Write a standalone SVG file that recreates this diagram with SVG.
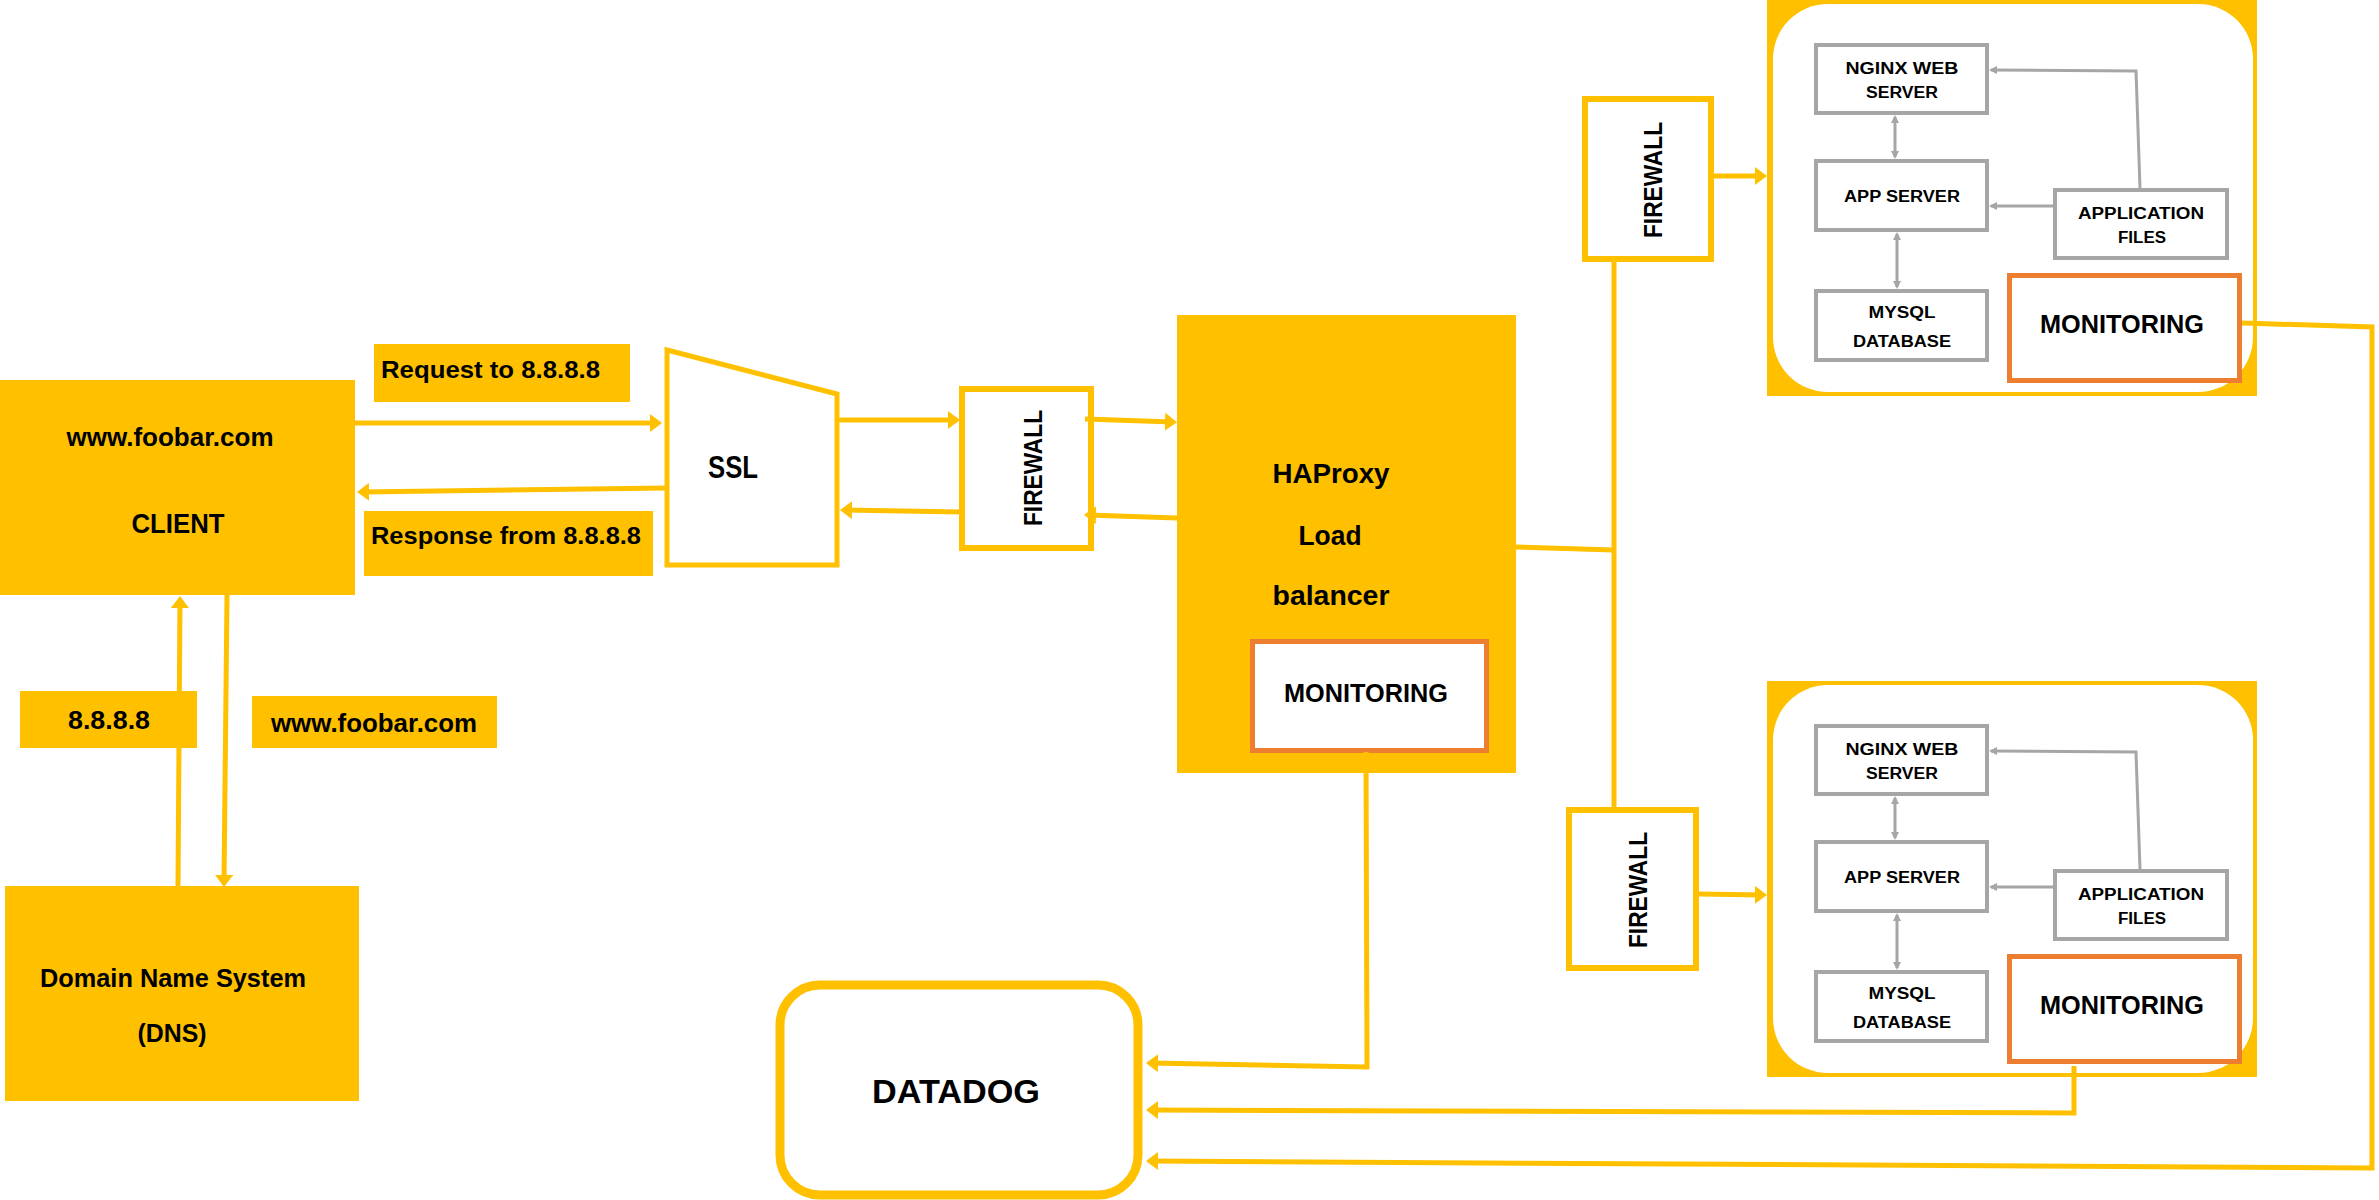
<svg xmlns="http://www.w3.org/2000/svg" width="2379" height="1200" viewBox="0 0 2379 1200">
<style>
.yf{fill:#FFC000}
.t{font-family:"Liberation Sans",Arial,sans-serif;font-weight:bold;fill:#000}
.c{stroke:#FFC000;stroke-width:5;fill:none}
.gb{fill:#fff;stroke:#A6A6A6;stroke-width:4}
.gc{stroke:#A6A6A6;stroke-width:3;fill:none}
.mon{fill:#fff;stroke:#ED7D31;stroke-width:5}
.fw{fill:#fff;stroke:#FFC000;stroke-width:6}
</style>
<defs>
<marker id="ah" markerUnits="userSpaceOnUse" markerWidth="12" markerHeight="18" viewBox="0 0 12 18" refX="8" refY="9" orient="auto">
<path d="M0,0 L12,9 L0,18 z" fill="#FFC000"/>
</marker>
<marker id="ga" markerUnits="userSpaceOnUse" markerWidth="8" markerHeight="8" viewBox="0 0 8 8" refX="6" refY="4" orient="auto-start-reverse">
<path d="M0,0 L8,4 L0,8 z" fill="#A6A6A6"/>
</marker>
</defs>
<rect width="2379" height="1200" fill="#fff"/>

<g id="client">
<rect class="yf" x="0" y="380" width="355" height="215"/>
<text class="t" x="170" y="446" font-size="26" text-anchor="middle" textLength="207" lengthAdjust="spacingAndGlyphs">www.foobar.com</text>
<text class="t" x="178" y="533" font-size="27" text-anchor="middle" textLength="93" lengthAdjust="spacingAndGlyphs">CLIENT</text>
</g>

<g id="label-request">
<rect class="yf" x="374" y="344" width="256" height="58"/>
<text class="t" x="381" y="378" font-size="24" textLength="219" lengthAdjust="spacingAndGlyphs">Request to 8.8.8.8</text>
</g>
<g id="label-response">
<rect class="yf" x="364" y="511" width="289" height="65"/>
<text class="t" x="371" y="544" font-size="24" textLength="270" lengthAdjust="spacingAndGlyphs">Response from 8.8.8.8</text>
</g>

<g id="label-domain">
<rect class="yf" x="252" y="696" width="245" height="52"/>
<text class="t" x="374" y="732" font-size="26" text-anchor="middle" textLength="206" lengthAdjust="spacingAndGlyphs">www.foobar.com</text>
</g>

<g id="dns">
<rect class="yf" x="5" y="886" width="354" height="215"/>
<text class="t" x="173" y="987" font-size="25" text-anchor="middle" textLength="266" lengthAdjust="spacingAndGlyphs">Domain Name System</text>
<text class="t" x="172" y="1042" font-size="25" text-anchor="middle" textLength="69" lengthAdjust="spacingAndGlyphs">(DNS)</text>
</g>

<g id="ssl">
<polygon points="667,350 837,394 837,565 667,565" fill="#fff" stroke="#FFC000" stroke-width="5"/>
<text class="t" x="733" y="478" font-size="32" text-anchor="middle" textLength="50" lengthAdjust="spacingAndGlyphs">SSL</text>
</g>

<g id="firewall-1">
<rect class="fw" x="962" y="389" width="129" height="159"/>
<text class="t" transform="translate(1033,468) rotate(-90)" x="0" y="9" font-size="25" text-anchor="middle" textLength="116" lengthAdjust="spacingAndGlyphs">FIREWALL</text>
</g>

<g id="haproxy">
<rect class="yf" x="1177" y="315" width="339" height="458"/>
<text class="t" x="1331" y="483" font-size="28" text-anchor="middle" textLength="117" lengthAdjust="spacingAndGlyphs">HAProxy</text>
<text class="t" x="1330" y="545" font-size="28" text-anchor="middle" textLength="63" lengthAdjust="spacingAndGlyphs">Load</text>
<text class="t" x="1331" y="605" font-size="28" text-anchor="middle" textLength="117" lengthAdjust="spacingAndGlyphs">balancer</text>
</g>
<g id="haproxy-monitoring">
<rect class="mon" x="1252.5" y="641.5" width="234" height="109"/>
<text class="t" x="1366" y="702" font-size="25" text-anchor="middle" textLength="164" lengthAdjust="spacingAndGlyphs">MONITORING</text>
</g>

<g id="firewall-2">
<rect class="fw" x="1585" y="99" width="126" height="160"/>
<text class="t" transform="translate(1653,180) rotate(-90)" x="0" y="9" font-size="25" text-anchor="middle" textLength="116" lengthAdjust="spacingAndGlyphs">FIREWALL</text>
</g>
<g id="firewall-3">
<rect class="fw" x="1569" y="810" width="127" height="158"/>
<text class="t" transform="translate(1638,890) rotate(-90)" x="0" y="9" font-size="25" text-anchor="middle" textLength="116" lengthAdjust="spacingAndGlyphs">FIREWALL</text>
</g>

<g id="server-1">
<rect class="yf" x="1767" y="0" width="490" height="396"/>
<rect x="1773" y="4" width="480" height="388" rx="55" ry="55" fill="#fff"/>
<g class="inner">
<line class="gc" x1="1895" y1="117" x2="1895" y2="157" marker-start="url(#ga)" marker-end="url(#ga)"/>
<line class="gc" x1="1897" y1="234" x2="1897" y2="287" marker-start="url(#ga)" marker-end="url(#ga)"/>
<polyline class="gc" points="2140,188 2136,71 1991,70" marker-end="url(#ga)"/>
<line class="gc" x1="2053" y1="206" x2="1991" y2="206" marker-end="url(#ga)"/>
<rect class="gb" x="1816" y="45" width="171" height="68"/>
<text class="t" x="1902" y="74" font-size="16" text-anchor="middle" textLength="113" lengthAdjust="spacingAndGlyphs">NGINX WEB</text>
<text class="t" x="1902" y="98" font-size="16" text-anchor="middle" textLength="72" lengthAdjust="spacingAndGlyphs">SERVER</text>
<rect class="gb" x="1816" y="161" width="171" height="69"/>
<text class="t" x="1902" y="202" font-size="16" text-anchor="middle" textLength="116" lengthAdjust="spacingAndGlyphs">APP SERVER</text>
<rect class="gb" x="1816" y="291" width="171" height="69"/>
<text class="t" x="1902" y="318" font-size="16" text-anchor="middle" textLength="67" lengthAdjust="spacingAndGlyphs">MYSQL</text>
<text class="t" x="1902" y="347" font-size="16" text-anchor="middle" textLength="98" lengthAdjust="spacingAndGlyphs">DATABASE</text>
<rect class="gb" x="2055" y="190" width="172" height="68"/>
<text class="t" x="2141" y="219" font-size="16" text-anchor="middle" textLength="126" lengthAdjust="spacingAndGlyphs">APPLICATION</text>
<text class="t" x="2142" y="243" font-size="16" text-anchor="middle" textLength="48" lengthAdjust="spacingAndGlyphs">FILES</text>
<rect class="mon" x="2009.5" y="275.5" width="230" height="105"/>
<text class="t" x="2122" y="333" font-size="25" text-anchor="middle" textLength="164" lengthAdjust="spacingAndGlyphs">MONITORING</text>
</g>
</g>

<g id="server-2" transform="translate(0,681)">
<rect class="yf" x="1767" y="0" width="490" height="396"/>
<rect x="1773" y="4" width="480" height="388" rx="55" ry="55" fill="#fff"/>
<g class="inner">
<line class="gc" x1="1895" y1="117" x2="1895" y2="157" marker-start="url(#ga)" marker-end="url(#ga)"/>
<line class="gc" x1="1897" y1="234" x2="1897" y2="287" marker-start="url(#ga)" marker-end="url(#ga)"/>
<polyline class="gc" points="2140,188 2136,71 1991,70" marker-end="url(#ga)"/>
<line class="gc" x1="2053" y1="206" x2="1991" y2="206" marker-end="url(#ga)"/>
<rect class="gb" x="1816" y="45" width="171" height="68"/>
<text class="t" x="1902" y="74" font-size="16" text-anchor="middle" textLength="113" lengthAdjust="spacingAndGlyphs">NGINX WEB</text>
<text class="t" x="1902" y="98" font-size="16" text-anchor="middle" textLength="72" lengthAdjust="spacingAndGlyphs">SERVER</text>
<rect class="gb" x="1816" y="161" width="171" height="69"/>
<text class="t" x="1902" y="202" font-size="16" text-anchor="middle" textLength="116" lengthAdjust="spacingAndGlyphs">APP SERVER</text>
<rect class="gb" x="1816" y="291" width="171" height="69"/>
<text class="t" x="1902" y="318" font-size="16" text-anchor="middle" textLength="67" lengthAdjust="spacingAndGlyphs">MYSQL</text>
<text class="t" x="1902" y="347" font-size="16" text-anchor="middle" textLength="98" lengthAdjust="spacingAndGlyphs">DATABASE</text>
<rect class="gb" x="2055" y="190" width="172" height="68"/>
<text class="t" x="2141" y="219" font-size="16" text-anchor="middle" textLength="126" lengthAdjust="spacingAndGlyphs">APPLICATION</text>
<text class="t" x="2142" y="243" font-size="16" text-anchor="middle" textLength="48" lengthAdjust="spacingAndGlyphs">FILES</text>
<rect class="mon" x="2009.5" y="275.5" width="230" height="105"/>
<text class="t" x="2122" y="333" font-size="25" text-anchor="middle" textLength="164" lengthAdjust="spacingAndGlyphs">MONITORING</text>
</g>
</g>

<g id="datadog">
<rect x="780" y="985" width="358" height="210" rx="40" ry="40" fill="#fff" stroke="#FFC000" stroke-width="9"/>
<text class="t" x="956" y="1103" font-size="34" text-anchor="middle" textLength="168" lengthAdjust="spacingAndGlyphs">DATADOG</text>
</g>

<g id="connectors">
<line class="c" x1="355" y1="423" x2="658" y2="423" marker-end="url(#ah)"/>
<line class="c" x1="667" y1="488" x2="361" y2="492" marker-end="url(#ah)"/>
<line class="c" x1="837" y1="420" x2="956" y2="420" marker-end="url(#ah)"/>
<line class="c" x1="962" y1="512" x2="844" y2="510" marker-end="url(#ah)"/>
<line class="c" x1="1085" y1="419" x2="1173" y2="422" marker-end="url(#ah)"/>
<line class="c" x1="1177" y1="518" x2="1088" y2="515" marker-end="url(#ah)"/>
<line class="c" x1="1516" y1="547" x2="1614" y2="550"/>
<line class="c" stroke-width="4" x1="1614" y1="262" x2="1614" y2="807"/>
<line class="c" x1="1714" y1="176" x2="1763" y2="176" marker-end="url(#ah)"/>
<line class="c" x1="1699" y1="894" x2="1763" y2="895" marker-end="url(#ah)"/>
<line class="c" x1="178" y1="886" x2="180" y2="600" marker-end="url(#ah)"/>
<line class="c" x1="227" y1="595" x2="224" y2="883" marker-end="url(#ah)"/>
<polyline class="c" points="1366,752 1367,1067 1150,1063" marker-end="url(#ah)"/>
<polyline class="c" points="2074,1066 2074,1113 1150,1110" marker-end="url(#ah)"/>
<polyline class="c" points="2242,323 2372,327 2372,1168 1150,1161" marker-end="url(#ah)"/>
</g>

<g id="label-ip">
<rect class="yf" x="20" y="691" width="177" height="57"/>
<text class="t" x="109" y="729" font-size="26" text-anchor="middle" textLength="82" lengthAdjust="spacingAndGlyphs">8.8.8.8</text>
</g>
</svg>
